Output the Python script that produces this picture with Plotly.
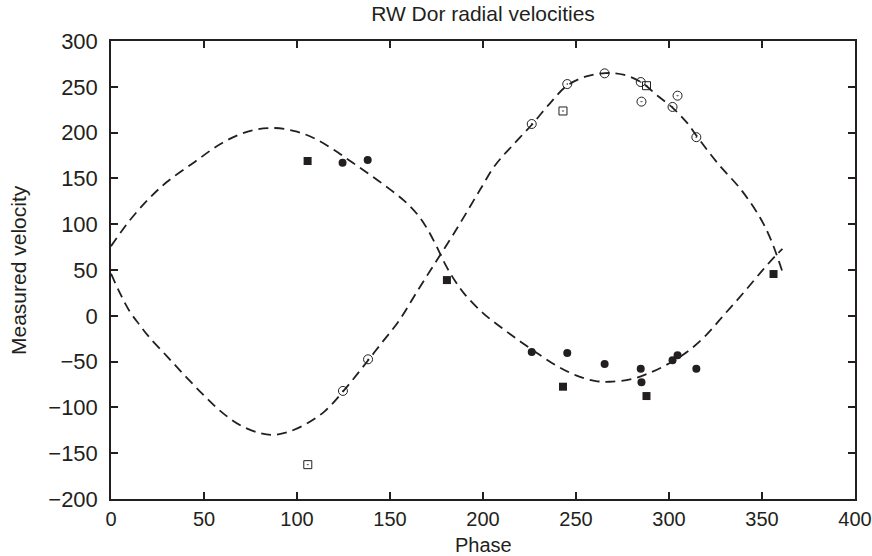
import plotly.graph_objects as go

# Fitted curve 1 (primary, through filled symbols)
c1_phase = [0, 10, 20, 30, 45, 60, 75, 88, 100, 110, 120, 130, 140, 150, 158, 165, 170,
            175, 180, 185, 190, 200, 210, 220, 230, 240, 250, 260, 268, 280, 290, 300,
            310, 320, 330, 340, 350, 357, 361]
c1_vel = [76, 104, 127, 146, 168, 189, 202, 205, 201, 193, 181, 167, 153, 138, 125, 110, 95,
          76, 55, 38, 24, 3, -13, -28, -42, -55, -65, -71, -72, -69, -62, -52,
          -39, -21, 2, 25, 49, 65, 73]

# Fitted curve 2 (secondary, through open symbols)
c2_phase = [0, 5, 10, 15, 20, 30, 40, 50, 60, 70, 80, 87, 95, 105, 115, 125, 135, 145,
            155, 165, 175, 185, 195, 200, 205, 210, 215, 220, 226, 236, 245, 255, 266,
            276, 285, 294, 302, 310, 315, 326, 339, 349, 355, 361]
c2_vel = [46, 24, 5, -9, -22, -44, -66, -87, -106, -120, -128, -130, -127, -118, -104, -82,
          -57, -31, -5, 28, 60, 92, 126, 143, 160, 173, 184, 195, 208, 232, 251, 261, 265,
          263, 255, 240, 227, 210, 196, 167, 137, 107, 82, 48]

# Measured points
fc_phase = [124.5, 138, 226.2, 245.3, 265.4, 284.8, 285.2, 301.9, 304.6, 314.7]
fc_vel = [167, 170, -39.5, -40.6, -52.6, -57.7, -72.6, -48.6, -43.1, -57.7]
fs_phase = [105.7, 180.6, 243, 287.9, 356.2]
fs_vel = [169, 39, -77.4, -87.6, 45.6]
oc_phase = [124.7, 138.2, 226.2, 245.3, 265.4, 284.8, 285.2, 301.9, 304.6, 314.7]
oc_vel = [-82, -47.5, 209.4, 253, 264.7, 255.2, 233.8, 228, 240.3, 195]
os_phase = [105.8, 243, 287.9]
os_vel = [-162.5, 223.6, 251.2]

INK = "#231f20"
FONT = "Liberation Sans, Arial, Helvetica, sans-serif"

fig = go.Figure()
for xs, ys in [(c1_phase, c1_vel), (c2_phase, c2_vel)]:
    fig.add_trace(go.Scatter(x=xs, y=ys, mode="lines",
                             line=dict(color=INK, width=1.8, dash="10px,6px",
                                       shape="spline", smoothing=1.0),
                             hoverinfo="skip"))

fig.add_trace(go.Scatter(x=fc_phase, y=fc_vel, mode="markers",
                         marker=dict(symbol="circle", size=8, color=INK)))
fig.add_trace(go.Scatter(x=fs_phase, y=fs_vel, mode="markers",
                         marker=dict(symbol="square", size=8, color=INK)))
fig.add_trace(go.Scatter(x=oc_phase, y=oc_vel, mode="markers",
                         marker=dict(symbol="circle-open-dot", size=9, color=INK,
                                     line=dict(width=1, color=INK))))
fig.add_trace(go.Scatter(x=os_phase, y=os_vel, mode="markers",
                         marker=dict(symbol="square-open-dot", size=8, color=INK,
                                     line=dict(width=1, color=INK))))

axis_common = dict(showgrid=False, zeroline=False, showline=True, mirror="ticks",
                   linecolor=INK, linewidth=1.5, ticks="inside", ticklen=7,
                   tickwidth=1.5, tickcolor=INK, dtick=50, automargin=False)

fig.update_layout(
    width=872, height=556,
    margin=dict(l=111, r=17, t=41, b=57),
    paper_bgcolor="white", plot_bgcolor="white",
    showlegend=False,
    font=dict(family=FONT, color=INK),
    title=dict(text="RW Dor radial velocities", x=0.5, xref="paper",
               y=1 - 14 / 556, yref="container", yanchor="middle",
               font=dict(family=FONT, size=21, color=INK)),
    xaxis=dict(range=[0, 400], tick0=0,
               tickfont=dict(family=FONT, size=20, color=INK),
               ticklabelstandoff=1, ticklabeloverflow="allow",
               **axis_common),
    yaxis=dict(range=[-200, 300], tick0=-200,
               tickfont=dict(family=FONT, size=22, color=INK),
               ticklabelstandoff=7,
               **axis_common),
    annotations=[
        dict(text="Phase", xref="paper", yref="paper", x=0.5, y=0,
             xanchor="center", yanchor="middle", yshift=-46, showarrow=False,
             font=dict(family=FONT, size=20, color=INK)),
        dict(text="Measured velocity", xref="paper", yref="paper", x=0, y=0.5,
             xanchor="center", yanchor="middle", xshift=-93, textangle=-90,
             showarrow=False, font=dict(family=FONT, size=21, color=INK)),
    ],
)

fig.write_html("out.html", config={"displayModeBar": False},
               post_script="document.body.style.margin='0';document.body.style.overflow='hidden';")
